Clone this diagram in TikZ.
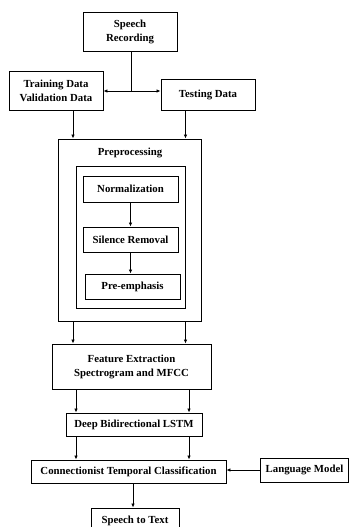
\documentclass[tikz,border=0pt]{standalone}
\usepackage{fontspec}
\setmainfont{Liberation Serif}
\usetikzlibrary{arrows.meta}
\begin{document}
\begin{tikzpicture}[x=1pt,y=-1pt,
  box/.style={draw,line width=0.9pt,inner sep=0pt,align=center,font=\bfseries\fontsize{10.8}{14}\selectfont},
  frame/.style={draw,line width=0.9pt,inner sep=0pt},
  arr/.style={line width=0.9pt,-{Latex[length=4pt,width=3.5pt]}},
  ln/.style={line width=0.9pt}]
\useasboundingbox (0,0) rectangle (349,527);
\clip (0,0) rectangle (349,527);
\node[box,minimum width=94pt,minimum height=39pt] (sr) at (130,31.5) {Speech\\Recording};
\node[box,minimum width=94pt,minimum height=39pt] (train) at (56,90.5) {Training Data\\Validation Data};
\node[box,minimum width=94pt,minimum height=31pt] (test) at (208,94.5) {Testing Data};
\node[frame,minimum width=143pt,minimum height=182pt] (outer) at (129.5,230) {};
\node[box,draw=none] (pp) at (130,153) {Preprocessing};
\node[frame,minimum width=109pt,minimum height=142pt] (inner) at (130.5,237) {};
\node[box,minimum width=95pt,minimum height=26pt] (norm) at (130.5,189) {Normalization};
\node[box,minimum width=95pt,minimum height=25pt] (sil) at (130.5,239.5) {Silence Removal};
\node[box,minimum width=95pt,minimum height=25pt] (pre) at (132.5,286.5) {Pre-emphasis};
\node[box,minimum width=159pt,minimum height=45pt] (feat) at (131.5,366.5) {Feature Extraction\\Spectrogram and MFCC};
\node[box,minimum width=136pt,minimum height=23pt] (lstm) at (134,424.5) {Deep Bidirectional LSTM};
\node[box,minimum width=195pt,minimum height=23pt] (ctc) at (128.5,471.5) {Connectionist Temporal Classification};
\node[box,minimum width=88pt,minimum height=24pt] (lm) at (304.5,470) {Language Model};
\node[box,minimum width=88pt,minimum height=26pt] (stt) at (135,521) {Speech to Text};
% columns
\coordinate (c0) at (131,0);
\coordinate (j) at (131,91);
\coordinate (cl) at (73,0);
\coordinate (cr) at (185.5,0);
\coordinate (dl) at (76,0);
\coordinate (dr) at (189,0);
\coordinate (cm) at (133,0);
\coordinate (cn) at (130.5,0);
\draw[ln] (c0 |- sr.south) -- (j);
\draw[arr] (j) -- (j -| train.east);
\draw[arr] (j) -- (j -| test.west);
\draw[arr] (cl |- train.south) -- (cl |- outer.north);
\draw[arr] (cr |- test.south) -- (cr |- outer.north);
\draw[arr] (cn |- norm.south) -- (cn |- sil.north);
\draw[arr] (cn |- sil.south) -- (cn |- pre.north);
\draw[arr] (cl |- outer.south) -- (cl |- feat.north);
\draw[arr] (cr |- outer.south) -- (cr |- feat.north);
\draw[arr] (dl |- feat.south) -- (dl |- lstm.north);
\draw[arr] (dr |- feat.south) -- (dr |- lstm.north);
\draw[arr] (dl |- lstm.south) -- (dl |- ctc.north);
\draw[arr] (dr |- lstm.south) -- (dr |- ctc.north);
\draw[arr] (lm.west) -- (lm.west -| ctc.east);
\draw[arr] (cm |- ctc.south) -- (cm |- stt.north);
\end{tikzpicture}
\end{document}
